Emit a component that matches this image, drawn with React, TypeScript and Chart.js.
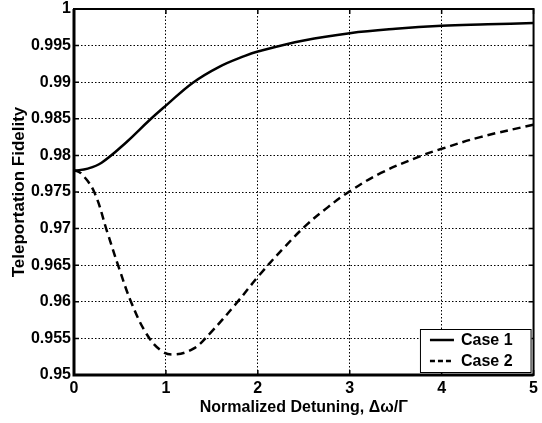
import { useEffect, useRef } from "react";
import { Chart, registerables } from "chart.js";

Chart.register(...registerables);

const seriesLabels = ["Case 1", "Case 2"];
const xTitle = "Normalized Detuning, \u0394\u03c9/\u0393";
const yTitle = "Teleportation Fidelity";

const case1X = [0, 0.15, 0.3, 0.57, 0.82, 1, 1.29, 1.58, 1.86, 2, 2.5, 3, 3.5, 4, 4.5, 5];
const case1Y = [0.9779, 0.9782, 0.979, 0.9818, 0.9848, 0.9868, 0.9899, 0.9921, 0.9936, 0.9942, 0.9957, 0.9967, 0.9973, 0.9977, 0.9979, 0.9981];

const case2X = [0, 0.08, 0.22, 0.36, 0.49, 0.63, 0.79, 0.94, 1.08, 1.3, 1.48, 1.76, 2.02, 2.3, 2.53, 2.76, 3.0, 3.34, 3.77, 4.0, 4.42, 5];
const case2Y = [0.978, 0.9775, 0.975, 0.9696, 0.9646, 0.9597, 0.9556, 0.9534, 0.9528, 0.9536, 0.9557, 0.9597, 0.9637, 0.9676, 0.9705, 0.9729, 0.9751, 0.9776, 0.9799, 0.9809, 0.9825, 0.9842];

const xTicks = [0, 1, 2, 3, 4, 5];
const yTicks = [0.95, 0.955, 0.96, 0.965, 0.97, 0.975, 0.98, 0.985, 0.99, 0.995, 1];

const FONT = "'Liberation Sans', Arial, Helvetica, sans-serif";

const framePlugin = {
  id: "frame",
  afterDraw(chart: any) {
    const { ctx, chartArea: a, scales } = chart;
    ctx.save();
    ctx.strokeStyle = "#000";
    ctx.setLineDash([]);
    // inner tick marks
    ctx.lineWidth = 1.5;
    const tl = 5;
    for (const v of xTicks) {
      const px = scales.x.getPixelForValue(v);
      ctx.beginPath();
      ctx.moveTo(px, a.bottom);
      ctx.lineTo(px, a.bottom - tl);
      ctx.moveTo(px, a.top);
      ctx.lineTo(px, a.top + tl);
      ctx.stroke();
    }
    for (const v of yTicks) {
      const py = scales.y.getPixelForValue(v);
      ctx.beginPath();
      ctx.moveTo(a.left, py);
      ctx.lineTo(a.left + tl, py);
      ctx.moveTo(a.right, py);
      ctx.lineTo(a.right - tl, py);
      ctx.stroke();
    }
    // frame
    ctx.lineWidth = 2;
    ctx.strokeRect(a.left, a.top, a.right - a.left, a.bottom - a.top);
    ctx.lineWidth = 3;
    ctx.beginPath();
    ctx.moveTo(a.left, a.top);
    ctx.lineTo(a.left, a.bottom);
    ctx.lineTo(a.right, a.bottom);
    ctx.stroke();

    // legend
    ctx.font = "bold 16px " + FONT;
    const texts = chart.data.datasets.map((d: any) => d.label);
    const tw = Math.max(...texts.map((t: string) => ctx.measureText(t).width));
    const sample = 24;
    const w = 10 + sample + 6 + tw + 20;
    const rowH = 21;
    const h = 44;
    const right = a.right - 2;
    const bottom = a.bottom - 2;
    const left = right - w;
    const top = bottom - h;
    ctx.fillStyle = "#fff";
    ctx.fillRect(left, top, w, h);
    ctx.lineWidth = 1;
    ctx.strokeRect(left + 0.5, top + 0.5, w - 1, h - 1);
    chart.data.datasets.forEach((d: any, i: number) => {
      const cy = top + 11 + i * rowH;
      ctx.beginPath();
      ctx.setLineDash(d.borderDash && d.borderDash.length ? [5, 3] : []);
      ctx.lineWidth = 2.5;
      ctx.moveTo(left + 10, cy);
      ctx.lineTo(left + 10 + sample, cy);
      ctx.stroke();
      ctx.setLineDash([]);
      ctx.fillStyle = "#000";
      ctx.textAlign = "left";
      ctx.textBaseline = "middle";
      ctx.fillText(d.label, left + 10 + sample + 7, cy + 1);
    });
    ctx.restore();
  },
};

export default function App() {
  const ref = useRef<HTMLCanvasElement | null>(null);

  useEffect(() => {
    if (!ref.current) return;
    const chart = new Chart(ref.current, {
      type: "line",
      data: {
        datasets: [
          {
            label: seriesLabels[0],
            data: case1X.map((x, i) => ({ x, y: case1Y[i] })),
            borderColor: "#000",
            borderWidth: 2.5,
            pointRadius: 0,
            fill: false,
            tension: 0.4,
          },
          {
            label: seriesLabels[1],
            data: case2X.map((x, i) => ({ x, y: case2Y[i] })),
            borderColor: "#000",
            borderWidth: 2.5,
            borderDash: [8, 5],
            pointRadius: 0,
            fill: false,
            tension: 0.4,
          },
        ],
      },
      options: {
        responsive: false,
        animation: false,
        devicePixelRatio: 1,
        layout: { padding: { left: 0, top: 6, right: 5, bottom: 0 } },
        plugins: { legend: { display: false }, tooltip: { enabled: false } },
        scales: {
          x: {
            type: "linear",
            min: 0,
            max: 5,
            afterBuildTicks: (s: any) => {
              s.ticks = xTicks.map((v) => ({ value: v }));
            },
            afterFit: (s: any) => {
              s.height = 48;
            },
            ticks: {
              color: "#000",
              padding: 4,
              font: { family: FONT, size: 16, weight: "bold" },
              callback: (v: any) => String(v),
            },
            grid: { color: "#000", lineWidth: 1, drawTicks: false },
            border: { display: false, dash: [1.5, 2] },
            title: {
              display: true,
              text: xTitle,
              color: "#000",
              padding: { top: 0, bottom: 6 },
              font: { family: FONT, size: 16, weight: "bold" },
            },
          },
          y: {
            type: "linear",
            min: 0.95,
            max: 1,
            afterBuildTicks: (s: any) => {
              s.ticks = yTicks.map((v) => ({ value: v }));
            },
            afterFit: (s: any) => {
              s.width = 74;
            },
            ticks: {
              color: "#000",
              padding: 3,
              font: { family: FONT, size: 16, weight: "bold", lineHeight: 0.75 },
              callback: (v: any) => String(Number(Number(v).toFixed(3))),
            },
            grid: { color: "#000", lineWidth: 1, drawTicks: false },
            border: { display: false, dash: [1.5, 2] },
            title: {
              display: true,
              text: yTitle,
              color: "#000",
              padding: { top: 9, bottom: 0 },
              font: { family: FONT, size: 17, weight: "bold" },
            },
          },
        },
      },
      plugins: [framePlugin],
    } as any);
    return () => chart.destroy();
  }, []);

  return (
    <div style={{ position: "absolute", left: 0, top: 0, width: 542, height: 423, background: "#fff" }}>
      <canvas ref={ref} width={542} height={423} style={{ display: "block", width: 542, height: 423 }} />
    </div>
  );
}
